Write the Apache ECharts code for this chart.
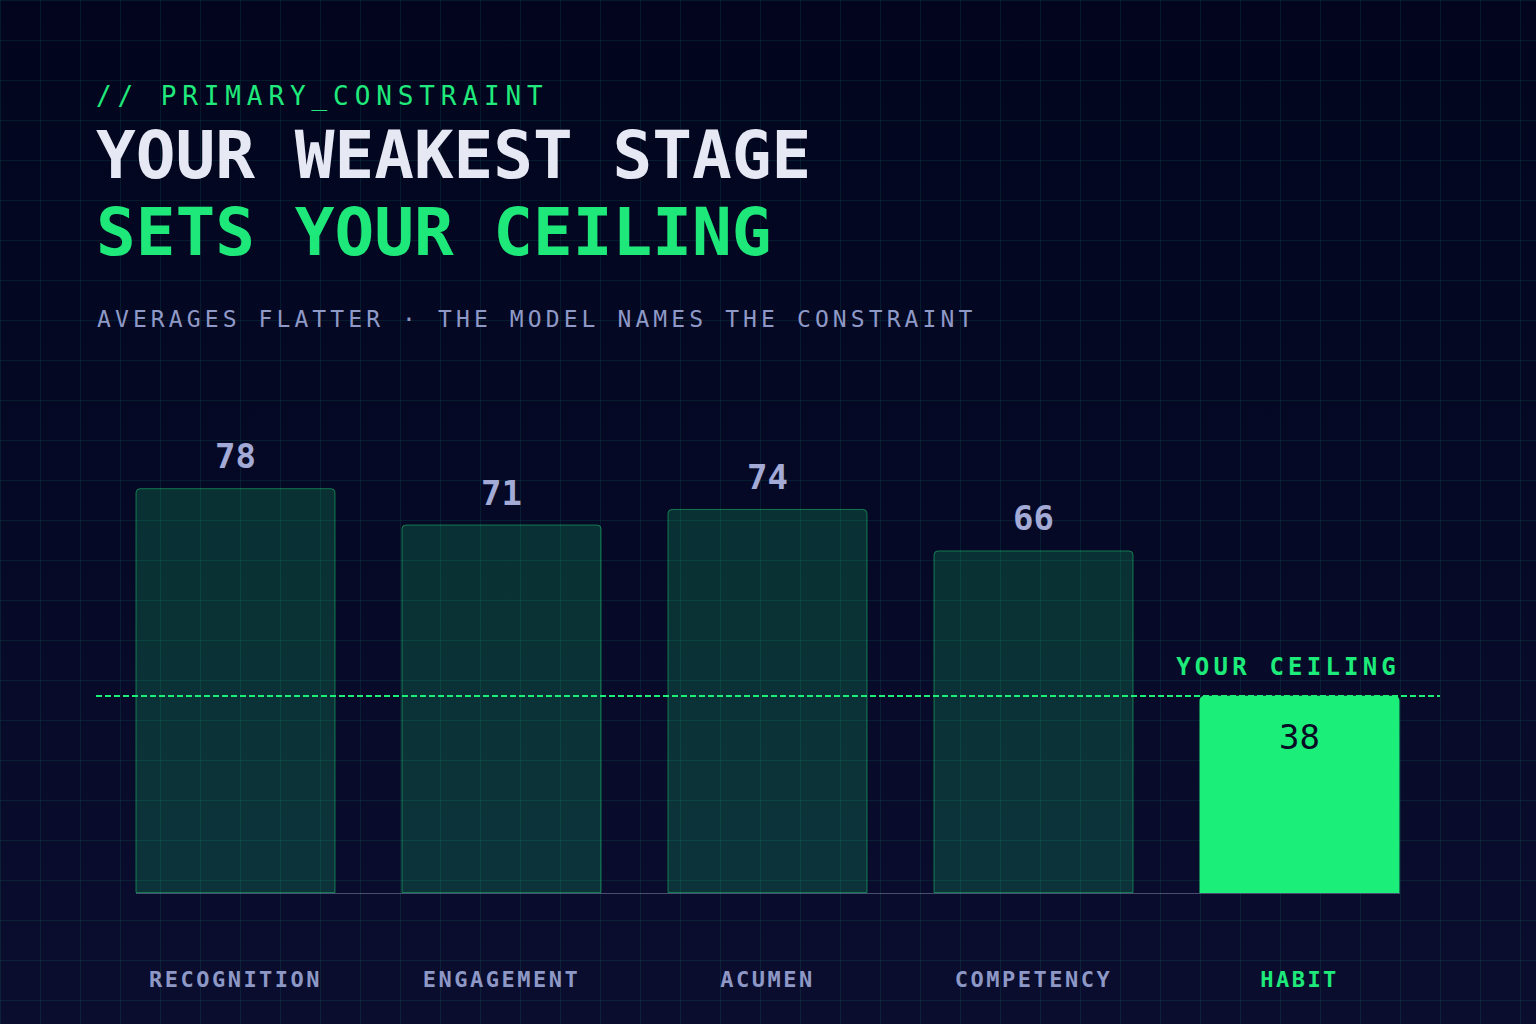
<!DOCTYPE html>
<html>
<head>
<meta charset="utf-8">
<title>Your weakest stage sets your ceiling</title>
<script src="https://cdn.jsdelivr.net/npm/echarts@6/dist/echarts.min.js"></script>
<style>
  html, body { margin: 0; padding: 0; width: 1536px; height: 1024px; overflow: hidden; }
  body {
    background:
      linear-gradient(rgba(20, 200, 140, 0.11) 1px, transparent 1px) 0 0 / 40px 40px,
      linear-gradient(90deg, rgba(20, 200, 140, 0.11) 1px, transparent 1px) 0 0 / 40px 40px,
      linear-gradient(180deg, #02051d 0%, #0a0d2e 100%);
  }
  #chart { width: 1536px; height: 1024px; }
  /* zrender has no letter spacing, so the svg text gets it from css, keyed on fill */
  #chart text { letter-spacing: 0; }
  #chart text[fill="#1fea7b"] { letter-spacing: 5.9px; }
  #chart text[fill="#8f99c7"] { letter-spacing: 4.1px; }
  #chart text[fill="#8e98c6"], #chart text[fill="#1ee97a"] { letter-spacing: 2.5px; }
  #chart text[fill="#1deb7a"] { letter-spacing: 4.2px; }
</style>
</head>
<body>
<div id="chart"></div>
<script>
// stages and scores
var categories = ['RECOGNITION', 'ENGAGEMENT', 'ACUMEN', 'COMPETENCY', 'HABIT'];
var scores = [78, 71, 74, 66, 38];
var ceiling = 38;
var scoreMax = 100;

var FONT = '"DejaVu Sans Mono", "Liberation Mono", monospace';
var GREEN = '#1cee7a';

var KICKER_COLOR = '#1fea7b',
    TITLE_COLOR = '#e6e8f4',
    TITLE_GREEN = '#1ee87a',
    SUB_COLOR = '#8f99c7',
    CAT_COLOR = '#8e98c6',
    CAT_HOT = '#1ee97a',
    CEIL_COLOR = '#1deb7a',
    VALUE_COLOR = '#a2aad5',
    VALUE_DARK = '#070b24';

var weakest = scores.indexOf(Math.min.apply(null, scores));

// all three grids share top/height so the y scales line up
var gridTop = 374, gridHeight = 519;

function yAxisFor(i) {
    return { gridIndex: i, type: 'value', min: 0, max: scoreMax, show: false };
}

var barData = scores.map(function(v, i) {
    if (i !== weakest) return v;
    return {
        value: v,
        itemStyle: { color: GREEN, borderColor: GREEN, borderWidth: 0, borderRadius: [5, 5, 0, 0] },
        label: {
            position: 'insideTop',
            distance: 24,
            color: VALUE_DARK,
            fontWeight: 'normal'
        }
    };
});

var option = {
    animation: false,
    backgroundColor: 'transparent',
    textStyle: { fontFamily: FONT },
    title: [
        {
            text: '// PRIMARY_CONSTRAINT',
            left: 96, top: 83, padding: 0,
            textStyle: { color: KICKER_COLOR, fontSize: 26, fontWeight: 'normal', fontFamily: FONT }
        },
        {
            text: 'YOUR WEAKEST STAGE',
            left: 96, top: 122, padding: 0,
            textStyle: { color: TITLE_COLOR, fontSize: 66, fontWeight: 'bold', fontFamily: FONT }
        },
        {
            text: 'SETS YOUR CEILING',
            left: 96, top: 199, padding: 0,
            textStyle: { color: TITLE_GREEN, fontSize: 66, fontWeight: 'bold', fontFamily: FONT }
        },
        {
            text: 'AVERAGES FLATTER · THE MODEL NAMES THE CONSTRAINT',
            left: 97, top: 307, padding: 0,
            textStyle: { color: SUB_COLOR, fontSize: 23, fontWeight: 'normal', fontFamily: FONT }
        }
    ],
    grid: [
        { left: 102.5, width: 1330, top: gridTop, height: gridHeight },
        { left: 96, width: 1344, top: gridTop, height: gridHeight },
        { left: 136, width: 1264, top: gridTop, height: gridHeight }
    ],
    xAxis: [
        {
            gridIndex: 0,
            type: 'category',
            data: categories.map(function(c, i) {
                return i === weakest ? { value: c, textStyle: { color: CAT_HOT } } : c;
            }),
            axisLine: { show: false },
            axisTick: { show: false },
            axisLabel: {
                margin: 75,
                color: CAT_COLOR,
                fontSize: 22,
                fontWeight: 'bold',
                fontFamily: FONT
            }
        },
        { gridIndex: 1, type: 'value', min: 0, max: 1, show: false },
        { gridIndex: 2, type: 'value', min: 0, max: 1, show: false }
    ],
    yAxis: [yAxisFor(0), yAxisFor(1), yAxisFor(2)],
    series: [
        {
            type: 'bar',
            xAxisIndex: 0, yAxisIndex: 0,
            data: barData,
            barWidth: 200,
            itemStyle: {
                color: 'rgba(30, 232, 122, 0.18)',
                borderColor: 'rgba(30, 232, 122, 0.45)',
                borderWidth: 1,
                borderRadius: [4, 4, 0, 0]
            },
            label: {
                show: true,
                position: 'top',
                distance: 15,
                color: VALUE_COLOR,
                fontSize: 34,
                fontWeight: 'bold',
                fontFamily: FONT
            }
        },
        {
            // dashed ceiling line, runs a bit wider than the bars
            type: 'line',
            xAxisIndex: 1, yAxisIndex: 1,
            data: [],
            markLine: {
                silent: true,
                symbol: 'none',
                label: { show: false },
                lineStyle: { color: GREEN, width: 2, type: [6, 3] },
                data: [{ yAxis: ceiling }]
            }
        },
        {
            // baseline under the bars + the ceiling caption
            type: 'line',
            xAxisIndex: 2, yAxisIndex: 2,
            data: [],
            markLine: {
                silent: true,
                symbol: 'none',
                data: [
                    {
                        yAxis: 0,
                        lineStyle: { color: 'rgba(150, 160, 200, 0.45)', width: 1, type: 'solid' },
                        label: { show: false }
                    },
                    {
                        yAxis: ceiling,
                        lineStyle: { color: 'transparent', width: 1 },
                        label: {
                            show: true,
                            formatter: 'YOUR CEILING',
                            position: 'insideEndTop',
                            distance: [0, 17],
                            color: CEIL_COLOR,
                            fontSize: 24,
                            fontWeight: 'bold',
                            fontFamily: FONT
                        }
                    }
                ]
            }
        }
    ]
};

var chart = echarts.init(document.getElementById('chart'), null, { renderer: 'svg' });
chart.setOption(option);
</script>
</body>
</html>
